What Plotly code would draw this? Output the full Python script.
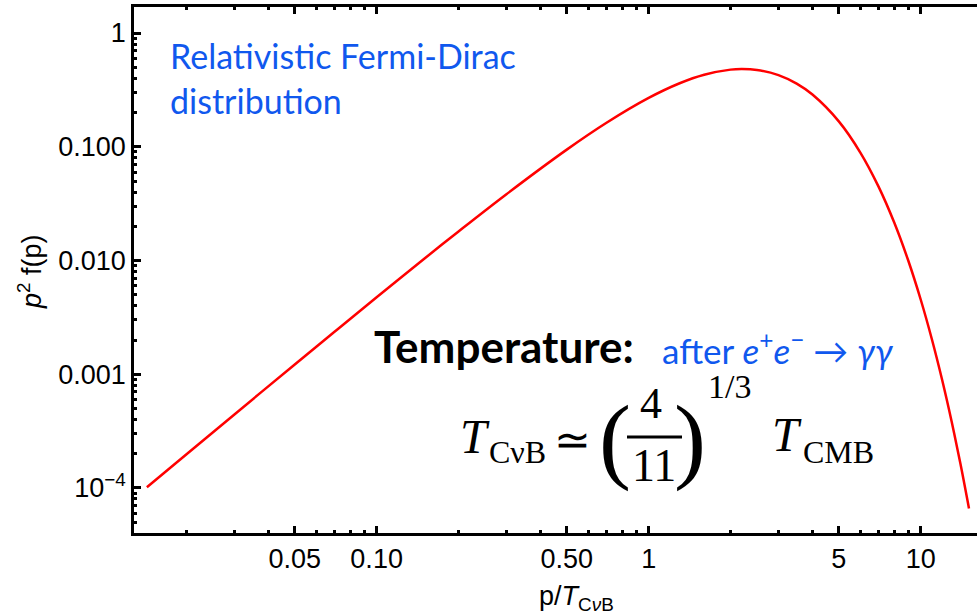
import plotly.graph_objects as go

# values
p_values = [0.0143, 0.02, 0.03, 0.05, 0.07, 0.1, 0.15, 0.2, 0.3, 0.5, 0.7, 1.0, 1.3, 1.6,
            2.0, 2.2, 2.5, 3.0, 3.5, 4.0, 5.0, 6.0, 7.0, 8.0, 9.0, 10.0, 11.0, 12.0, 13.0, 14.0, 15.05]
p2f_values = [1.015e-4, 1.98e-4, 4.43e-4, 1.219e-3, 2.364e-3, 4.75e-3, 1.041e-2, 1.801e-2, 3.83e-2,
              9.44e-2, 0.1626, 0.2689, 0.3619, 0.4300, 0.4768, 0.4828, 0.4741, 0.4268, 0.3591,
              0.2878, 0.1673, 0.0890, 0.04464, 0.02146, 9.995e-3, 4.54e-3, 2.021e-3, 8.85e-4,
              3.82e-4, 1.63e-4, 6.6e-5]

x_tickvals = [0.05, 0.1, 0.5, 1, 5, 10]
x_ticktext = ["0.05", "0.10", "0.50", "1", "5", "10"]
y_tickvals = [1e-4, 1e-3, 1e-2, 1e-1, 1]
y_ticktext = ["10<sup>\u22124</sup>", "0.001", "0.010", "0.100", "1"]

x_minor = [m * 10 ** e for e in range(-2, 2) for m in (2, 3, 4, 6, 7, 8, 9)]
y_minor = [m * 10 ** e for e in range(-5, 1) for m in range(2, 10)]

W, H = 977, 614
L, R, T, B = 134, 977, 7, 533

def px(x):
    return (x - L) / (R - L)

def py(y):
    return (B - y) / (B - T)

BLUE = "#1058ee"
SANS = "Liberation Sans, Arial, sans-serif"
CAL = "Lato, sans-serif"
SERIF = "Liberation Serif, serif"

fig = go.Figure()
fig.add_trace(go.Scatter(x=p_values, y=p2f_values, mode="lines",
                         line=dict(color="#ff0000", width=2.5, shape="spline"),
                         showlegend=False, hoverinfo="skip"))

axis_common = dict(showgrid=False, zeroline=False, showline=True, linecolor="black", linewidth=2.5,
                   ticks="inside", ticklen=7, tickwidth=2.5, tickcolor="black",
                   tickfont=dict(family=SANS, size=27, color="black"))

fig.update_xaxes(type="log", range=[-1.892, 1.207], tickmode="array", tickvals=x_tickvals,
                 ticktext=x_ticktext, mirror="ticks",
                 minor=dict(tickmode="array", tickvals=x_minor, ticks="inside", ticklen=3,
                            tickwidth=2.5, tickcolor="black"),
                 **axis_common)
fig.update_yaxes(type="log", range=[-4.396, 0.229], tickmode="array", tickvals=y_tickvals,
                 ticktext=y_ticktext, mirror=False,
                 minor=dict(tickmode="array", tickvals=y_minor, ticks="inside", ticklen=3,
                            tickwidth=2.5, tickcolor="black"),
                 **axis_common)

ann = []

def add(text, x, y, size, family, color="black", xanchor="left", yanchor="middle", angle=0):
    ann.append(dict(text=text, x=px(x), y=py(y), xref="paper", yref="paper", showarrow=False,
                    xanchor=xanchor, yanchor=yanchor, textangle=angle,
                    font=dict(family=family, size=size, color=color)))

# axis titles
add("p/<i>T</i><sub>C<i>\u03bd</i>B</sub>", 576, 598, 27, SANS, xanchor="center")
add("<i>p</i><sup>2</sup> f(p)", 30, 272, 27, SANS, xanchor="center", angle=-90)

add("Relativistic Fermi-Dirac", 168, 55, 34, CAL, BLUE)
add("distribution", 168, 100, 34, CAL, BLUE)
add("<b>Temperature:</b>", 372, 346, 44, CAL)
add("after <i>e</i><sup>+</sup><i>e</i><sup>\u2212</sup> \u2192 <i>\u03b3\u03b3</i>", 660, 348, 35, CAL, BLUE)

add("<i>T</i>", 458, 436, 48, SERIF)
add("C\u03bdB", 487, 452, 32, SERIF)
add("\u2243", 572, 440, 44, SERIF, xanchor="center")
add("(", 615, 438, 96, SERIF, xanchor="center")
add("4", 651, 403, 44, SERIF, xanchor="center")
add("11", 654, 465, 46, SERIF, xanchor="center")
add(")", 690, 438, 96, SERIF, xanchor="center")
add("1/3", 706, 386, 34, SERIF)
add("<i>T</i>", 770, 434, 48, SERIF)
add("CMB", 801, 452, 32, SERIF)

fig.add_shape(type="line", xref="paper", yref="paper", x0=px(627), x1=px(682), y0=py(437), y1=py(437),
              line=dict(color="black", width=3))

fig.update_layout(width=W, height=H, margin=dict(l=L, r=W - R, t=T, b=H - B),
                  plot_bgcolor="white", paper_bgcolor="white", annotations=ann, showlegend=False)

fig.write_html("out.html")
